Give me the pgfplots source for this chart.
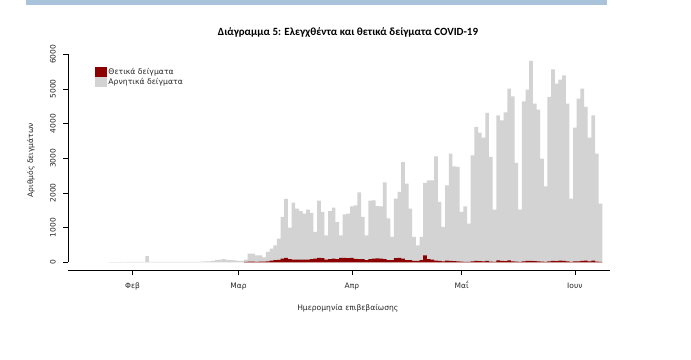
\documentclass[border=0pt]{standalone}
\usepackage{fontspec}
\setmainfont{DejaVu Sans}
\newfontfamily\titlefont{Carlito}
\usepackage{pgfplots}
\usepackage{pgfplotstable}
\pgfplotsset{compat=1.18}

\definecolor{posred}{HTML}{8B0000}
\definecolor{neggray}{HTML}{D3D3D3}
\definecolor{topblue}{HTML}{A9C3DA}

% total samples per day (day 0 = 1 Feb 2020)
\pgfplotstableread{
day total
-6 8
-5 8
-4 8
-3 10
-2 8
-1 10
0 10
1 10
2 12
3 15
4 180
5 15
6 12
7 10
8 12
9 10
10 12
11 10
12 12
13 10
14 12
15 15
16 12
17 15
18 15
19 20
20 25
21 30
22 40
23 60
24 80
25 90
26 70
27 60
28 55
29 40
30 40
31 80
32 250
33 250
34 200
35 200
36 145
37 300
38 395
39 490
40 680
41 1310
42 1830
43 1000
44 1720
45 1548
46 1480
47 1404
48 1520
49 1423
50 875
51 1779
52 1452
53 779
54 1480
55 1577
56 1164
57 779
58 1385
59 1404
60 1616
61 1640
62 2020
63 1308
64 779
65 1779
66 1790
67 1620
68 1616
69 2308
70 1270
71 731
72 1837
73 2030
74 2890
75 2270
76 1548
77 731
78 490
79 731
80 2290
81 2366
82 2366
83 3058
84 1741
85 1019
86 2221
87 3135
88 2770
89 2750
90 1452
91 1616
92 1116
93 3087
94 3904
95 3740
96 3597
97 4308
98 3039
99 1520
100 4241
101 4097
102 4327
103 5010
104 4789
105 2865
106 1520
107 4645
108 4982
109 5808
110 4578
111 4405
112 2991
113 2192
114 4770
115 5568
116 5155
117 5270
118 5395
119 4578
120 1837
121 3885
122 4722
123 5010
124 4482
125 3597
126 4241
127 3135
128 1693
}\totaltab

% positive samples per day
\pgfplotstableread{
day pos
31 10
32 20
33 20
34 15
35 20
36 20
37 25
38 50
39 60
40 70
41 110
42 130
43 90
44 80
45 80
46 75
47 80
48 75
49 90
50 110
51 125
52 120
53 80
54 95
55 110
56 90
57 125
58 130
59 120
60 130
61 100
62 95
63 90
64 60
65 95
66 110
67 115
68 105
69 90
70 65
71 60
72 120
73 130
74 110
75 60
76 60
77 40
78 40
79 60
80 200
81 90
82 80
83 50
84 40
85 30
86 50
87 40
88 35
89 30
90 20
91 15
92 10
93 30
94 40
95 35
96 30
97 45
98 20
99 15
100 55
101 40
102 35
103 55
104 30
105 20
106 10
107 30
108 40
109 45
110 35
111 30
112 20
113 15
114 30
115 40
116 35
117 50
118 40
119 30
120 10
121 25
122 30
123 40
124 50
125 30
126 50
127 20
128 10
}\postab

\begin{document}
\begin{tikzpicture}
\path (0bp,0bp) rectangle (691bp,360bp);
\fill[topblue] (26bp,355bp) rectangle (607bp,360bp);
\node[font=\titlefont\bfseries\fontsize{11bp}{13bp}\selectfont] at (348bp,328bp) {Διάγραμμα 5: Ελεγχθέντα και θετικά δείγματα COVID-19};
\begin{axis}[
  at={(68.3bp,89.5bp)}, anchor=south west,
  scale only axis, width=541.7bp, height=220.5bp,
  xmin=-17.56, xmax=130.6, ymin=-236, ymax=6124,
  axis x line*=bottom, axis y line*=left,
  y axis line style={draw=none},
  x axis line style={black, line width=0.6bp},
  tick style={black, line width=0.6bp},
  tick align=outside, major tick length=5bp,
  xtick={0,29,60,90,121},
  xticklabels={Φεβ,Μαρ,Απρ,Μαΐ,Ιουν},
  ytick={0,1000,2000,3000,4000,5000,6000},
  scaled y ticks=false,
  /pgf/number format/assume math mode=true,
  /pgf/number format/1000 sep={},
  ticklabel style={font=\fontsize{7.5bp}{9bp}\selectfont, text=black!85},
  yticklabel style={rotate=90, anchor=south},
  xticklabel style={text height=6bp, text depth=1.5bp},
  xticklabel shift=3bp,
  yticklabel shift=4bp,
  xlabel={Ημερομηνία επιβεβαίωσης},
  ylabel={Αριθμός δειγμάτων},
  label style={font=\fontsize{7.6bp}{9bp}\selectfont, text=black!85},
  xlabel style={at={(axis description cs:0.516,-0.17)}, anchor=center},
  ylabel style={at={(axis description cs:-0.069,0.5)}, anchor=center, rotate=0},
  bar width=1, bar shift=0pt,
  legend style={at={(rel axis cs:0.0498,0.923)}, anchor=north west, draw=none, fill=none,
     inner sep=0pt, row sep=0pt, font=\fontsize{7.7bp}{9bp}\selectfont, text=black!85,
     nodes={inner sep=1.5bp, text height=5.5bp, text depth=1.5bp}},
  legend cell align=left,
  legend image code/.code={\fill[#1, draw=none] (0bp,-5bp) rectangle (11.5bp,5bp);},
  clip=false,
]
\addplot[ybar, fill=neggray, draw=none, forget plot] table[x=day, y=total] {\totaltab};
\addplot[ybar, fill=posred, draw=none] table[x=day, y=pos] {\postab};
\addlegendentry{Θετικά δείγματα}
\addlegendimage{fill=neggray, draw=none}
\addlegendentry{Αρνητικά δείγματα}
\draw[black, line width=0.6bp] (axis cs:-17.56,0) -- (axis cs:-17.56,6000);
\end{axis}
\end{tikzpicture}
\end{document}
